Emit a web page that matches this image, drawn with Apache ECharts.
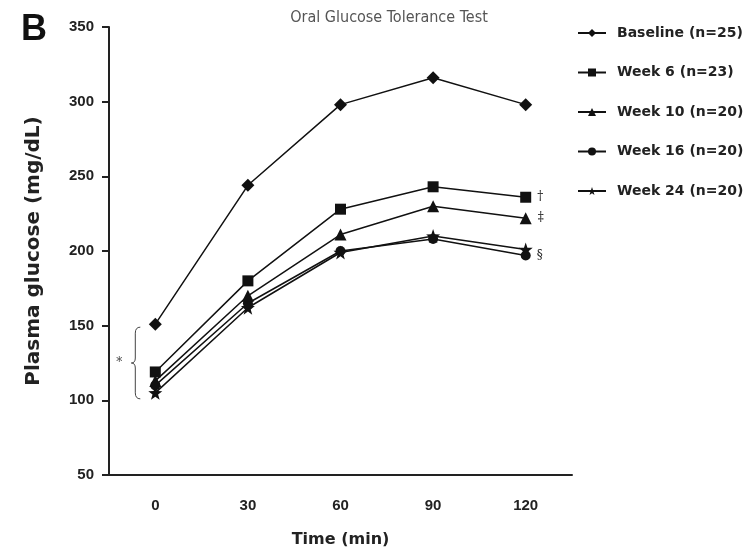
<!DOCTYPE html>
<html><head><meta charset="utf-8">
<script src="https://cdn.jsdelivr.net/npm/echarts@6/dist/echarts.min.js"></script>
<style>html,body{margin:0;padding:0;background:#fff}#c{width:749px;height:553px}</style>
</head><body><div id="c"></div>
<script>
var timeLabels = ['0', '30', '60', '90', '120'];
var baseline = [151, 244, 298, 316, 298];
var week6 = [119, 180, 228, 243, 236];
var week10 = [113, 170, 211, 230, 222];
var week16 = [110, 165, 200, 208, 197];
var week24 = [105, 162, 199, 210, 201];
var seriesNames = ['Baseline (n=25)', 'Week 6 (n=23)', 'Week 10 (n=20)', 'Week 16 (n=20)', 'Week 24 (n=20)'];
var endMarks = ['', '†', '‡', '§', ''];
var yTicks = [50, 100, 150, 200, 250, 300, 350];

var STAR = 'path://M0,-10L2.35,-3.24L9.51,-3.09L3.8,1.24L5.88,8.09L0,4L-5.88,8.09L-3.8,1.24L-9.51,-3.09L-2.35,-3.24Z';
var symbols = ['diamond', 'rect', 'triangle', 'circle', STAR];
var sizes = [13, 11, 12, 10, 14];
var allData = [baseline, week6, week10, week16, week24];
var FONT = "'DejaVu Sans', Arial, sans-serif";
var TICKFONT = "'Liberation Sans', Arial, sans-serif";

var chart = echarts.init(document.getElementById('c'), null, {renderer: 'canvas'});

var series = allData.map(function (d, i) {
  return {
    name: seriesNames[i],
    type: 'line',
    data: d.map(function (v, j) {
      var item = {value: v};
      if (j === d.length - 1 && endMarks[i]) {
        item.label = {show: true, position: 'right', distance: 6, formatter: endMarks[i],
          color: '#222', fontSize: 12, fontFamily: "'DejaVu Serif', serif"};
      }
      return item;
    }),
    symbol: symbols[i],
    symbolSize: sizes[i],
    showAllSymbol: true,
    lineStyle: {color: '#111', width: 1.5},
    itemStyle: {color: '#111'},
    z: 10 - i,
    animation: false
  };
});

chart.setOption({
  animation: false,
  backgroundColor: '#fff',
  title: {
    text: 'Oral Glucose Tolerance Test',
    left: 384, top: 5, textAlign: 'center',
    textStyle: {fontFamily: "'Liberation Sans Narrow', 'DejaVu Sans Condensed', Arial, sans-serif",
      fontWeight: 'normal', fontSize: 16, color: '#555'}
  },
  legend: {
    orient: 'vertical', left: 577, top: 26, padding: 0,
    itemWidth: 28, itemHeight: 10, itemGap: 25.5,
    textStyle: {fontFamily: FONT, fontWeight: 'bold', fontSize: 14, color: '#222', padding: [0, 0, 0, 6], lineHeight: 14},
    data: seriesNames
  },
  grid: {left: 109, right: 177, top: 27, bottom: 75, containLabel: false},
  xAxis: {
    type: 'category', data: timeLabels, boundaryGap: true,
    name: 'Time (min)', nameLocation: 'middle', nameGap: 57,
    nameTextStyle: {fontFamily: FONT, fontWeight: 'bold', fontSize: 16, color: '#222'},
    axisLine: {lineStyle: {color: '#222', width: 2}},
    axisTick: {alignWithLabel: true, length: 10, lineStyle: {color: '#222', width: 2}},
    axisLabel: {fontFamily: TICKFONT, fontWeight: 'bold', fontSize: 15, color: '#222', margin: 23},
    splitLine: {show: false}
  },
  yAxis: {
    type: 'value', min: 50, max: 350, interval: 50,
    name: 'Plasma glucose (mg/dL)', nameLocation: 'middle', nameGap: 65, nameRotate: 90,
    nameTextStyle: {fontFamily: FONT, fontWeight: 'bold', fontSize: 20, color: '#222'},
    axisLine: {show: true, lineStyle: {color: '#222', width: 2}},
    axisTick: {show: true, length: 7, lineStyle: {color: '#222', width: 2}},
    axisLabel: {fontFamily: TICKFONT, fontWeight: 'bold', fontSize: 15, color: '#222', margin: 15,
      formatter: function (v) { return yTicks.indexOf(v) >= 0 ? String(v) : ''; }},
    splitLine: {show: false}
  },
  series: series
});

// annotations: panel letter, brace and asterisk near time 0
var x0 = chart.convertToPixel({xAxisIndex: 0}, 0);
var yTop = chart.convertToPixel({yAxisIndex: 0}, 149);
var yBot = chart.convertToPixel({yAxisIndex: 0}, 101);
var yMid = (yTop + yBot) / 2;
var bx = x0 - 20;
var br = {stroke: '#444', lineWidth: 1, fill: null};

chart.setOption({
  graphic: [
    {type: 'text', x: 34, y: 30, style: {text: 'B', font: "bold 36px 'Liberation Sans', Arial, sans-serif", fill: '#111', textAlign: 'center', textVerticalAlign: 'middle'}},
    {type: 'bezierCurve', shape: {x1: bx + 5, y1: yTop, cpx1: bx, cpy1: yTop, x2: bx, y2: yTop + 6}, style: br},
    {type: 'line', shape: {x1: bx, y1: yTop + 6, x2: bx, y2: yMid - 5}, style: br},
    {type: 'bezierCurve', shape: {x1: bx, y1: yMid - 5, cpx1: bx, cpy1: yMid, x2: bx - 4, y2: yMid}, style: br},
    {type: 'bezierCurve', shape: {x1: bx - 4, y1: yMid, cpx1: bx, cpy1: yMid, x2: bx, y2: yMid + 5}, style: br},
    {type: 'line', shape: {x1: bx, y1: yMid + 5, x2: bx, y2: yBot - 6}, style: br},
    {type: 'bezierCurve', shape: {x1: bx, y1: yBot - 6, cpx1: bx, cpy1: yBot, x2: bx + 5, y2: yBot}, style: br},
    {type: 'text', x: x0 - 36, y: yMid, style: {text: '*', font: "12px 'DejaVu Serif', serif", fill: '#444', textAlign: 'center', textVerticalAlign: 'middle'}}
  ]
});
</script>
</body></html>
